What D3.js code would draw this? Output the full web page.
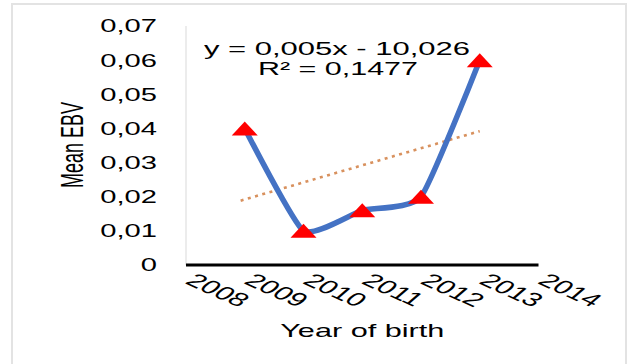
<!DOCTYPE html>
<html><head><meta charset="utf-8">
<script src="https://cdn.jsdelivr.net/npm/d3@7"></script>
<style>body{margin:0;background:#fff}svg{display:block}text{font-family:"Liberation Sans",Arial,sans-serif;fill:#000}</style>
</head><body><svg id="c" width="632" height="364"></svg>
<script>
const years = [2009, 2010, 2011, 2012, 2013];
const meanEBV = [0.04, 0.01, 0.016, 0.02, 0.06];
const yTicks = [0, 0.01, 0.02, 0.03, 0.04, 0.05, 0.06, 0.07];
const yTickLabels = ["0", "0,01", "0,02", "0,03", "0,04", "0,05", "0,06", "0,07"];
const xTicks = [2008, 2009, 2010, 2011, 2012, 2013, 2014];
const xTickLabels = ["2008", "2009", "2010", "2011", "2012", "2013", "2014"];
const eqLabel = "y = 0,005x - 10,026";
const r2Label = "R² = 0,1477";
const xTitle = "Year of birth";
const yTitle = "Mean EBV";

const svg = d3.select("#c");
svg.append("rect").attr("x",12).attr("y",4).attr("width",614).attr("height",372)
  .attr("fill","#fff").attr("stroke","#e3e3e3").attr("stroke-width",2);

const x = d3.scaleLinear().domain([2008, 2014]).range([186, 538.5]);
const y = d3.scaleLinear().domain([0, 0.07]).range([265, 26]);

// y axis line
svg.append("line").attr("x1",x(2008)).attr("x2",x(2008)).attr("y1",y(0.07)).attr("y2",y(0))
  .attr("stroke","#d9d9d9").attr("stroke-width",1);
// y tick labels
svg.append("g").selectAll("text").data(yTicks).join("text")
  .attr("transform", d => `translate(157,${y(d)}) scale(1.62,1)`)
  .attr("text-anchor","end").attr("dy","0.36em").attr("font-size",18)
  .text((d,i) => yTickLabels[i]);

// trendline (least squares from data)
const mx = d3.mean(years), my = d3.mean(meanEBV);
const slope = d3.sum(years, (v,i) => (v-mx)*(meanEBV[i]-my)) / d3.sum(years, v => (v-mx)**2);
const icpt = my - slope*mx;
const t0 = years[0] - 0.07, t1 = years[years.length-1];
svg.append("line")
  .attr("x1",x(t0)).attr("y1",y(slope*t0+icpt))
  .attr("x2",x(t1)).attr("y2",y(slope*t1+icpt))
  .attr("stroke","#D8915E").attr("stroke-width",2.6).attr("stroke-dasharray","3 4.5");

// smoothed line
const line = d3.line().x((d,i)=>x(years[i])).y(d=>y(d)).curve(d3.curveCardinal.tension(0.5));
svg.append("path").attr("d", line(meanEBV)).attr("fill","none")
  .attr("stroke","#4472C4").attr("stroke-width",5.5).attr("stroke-linejoin","round");

// markers
svg.append("g").selectAll("path").data(meanEBV).join("path")
  .attr("transform",(d,i)=>`translate(${x(years[i])},${y(d)})`)
  .attr("d","M0,-7L13,7L-13,7Z").attr("fill","#FF0000");

// x axis line
svg.append("line").attr("x1",x(2008)).attr("x2",x(2014)).attr("y1",y(0)).attr("y2",y(0))
  .attr("stroke","#000").attr("stroke-width",3);
// x tick labels
svg.append("g").selectAll("text").data(xTicks).join("text")
  .attr("transform", d => `translate(${x(d)-2},${y(0)+18}) scale(1.62,1) rotate(36)`)
  .attr("text-anchor","start").attr("font-size",19)
  .text((d,i)=>xTickLabels[i]);

// titles
svg.append("text").attr("x",x(2011)).attr("y",337).attr("text-anchor","middle")
  .attr("font-size",18.5).attr("textLength",164).attr("lengthAdjust","spacingAndGlyphs").text(xTitle);
svg.append("text").attr("transform",`translate(83,145) scale(1.75,1) rotate(-90)`)
  .attr("text-anchor","middle").attr("font-size",18).text(yTitle);

// equation
svg.append("text").attr("x",204).attr("y",55).attr("font-size",17.5)
  .attr("textLength",266).attr("lengthAdjust","spacingAndGlyphs").text(eqLabel);
svg.append("text").attr("x",258).attr("y",75).attr("font-size",17.5)
  .attr("textLength",160).attr("lengthAdjust","spacingAndGlyphs").text(r2Label);
</script></body></html>
